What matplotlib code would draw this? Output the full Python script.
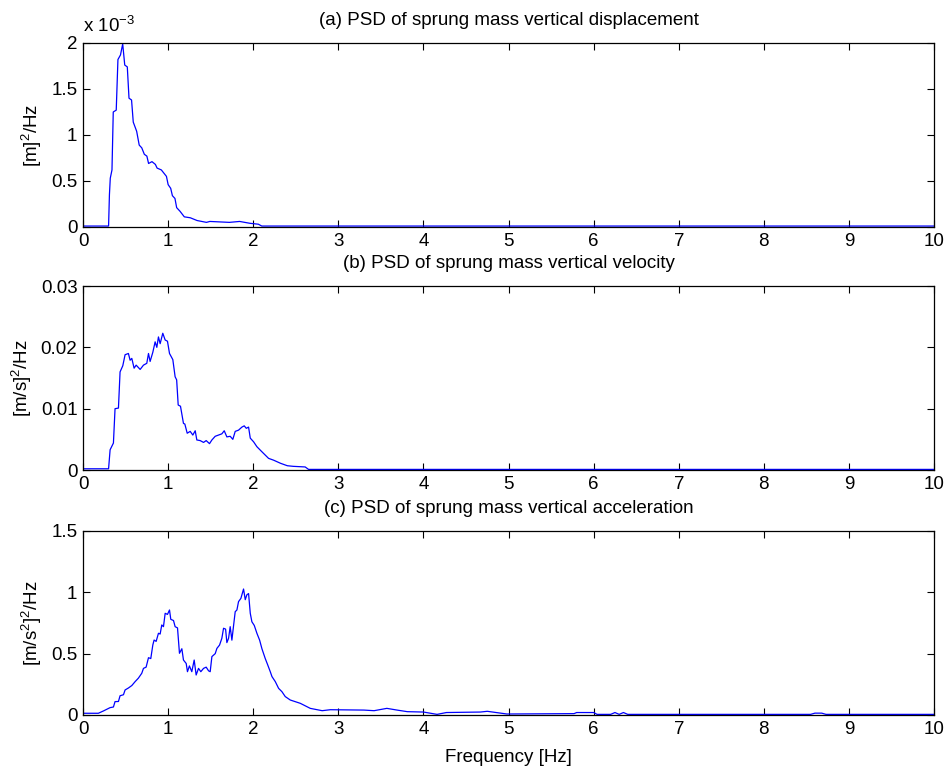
import matplotlib
matplotlib.use("Agg")
import matplotlib.pyplot as plt

plt.rcParams['font.family'] = ['Liberation Sans', 'DejaVu Sans']
plt.rcParams['mathtext.default'] = 'regular'

# (a) desplazamiento, valores en unidades de 1e-3 m^2/Hz
f_disp = [0, 0.30, 0.31, 0.32, 0.34, 0.355, 0.39, 0.41, 0.44, 0.466, 0.49, 0.52, 0.54,
          0.57, 0.59, 0.63, 0.66, 0.69, 0.72, 0.75, 0.77, 0.81, 0.85, 0.87, 0.92, 0.98,
          1.00, 1.03, 1.05, 1.08, 1.10, 1.14, 1.19, 1.26, 1.34, 1.45, 1.49, 1.72, 1.84,
          1.96, 2.06, 2.10, 10]
psd_disp = [0.01, 0.01, 0.35, 0.53, 0.62, 1.25, 1.27, 1.82, 1.87, 1.99, 1.76, 1.74, 1.40,
            1.38, 1.14, 1.04, 0.89, 0.86, 0.79, 0.77, 0.69, 0.71, 0.68, 0.64, 0.62, 0.55,
            0.46, 0.42, 0.34, 0.31, 0.21, 0.17, 0.11, 0.10, 0.07, 0.05, 0.06, 0.05, 0.06,
            0.04, 0.03, 0.01, 0.01]

# (b) velocidad
f_vel = [0, 0.30, 0.318, 0.357, 0.376, 0.416, 0.435, 0.467, 0.494, 0.533, 0.553, 0.573,
         0.60, 0.624, 0.671, 0.71, 0.749, 0.769, 0.788, 0.82, 0.847, 0.867, 0.886, 0.906,
         0.937, 0.965, 0.992, 1.016, 1.055, 1.082, 1.10, 1.118, 1.145, 1.18, 1.196, 1.224,
         1.259, 1.29, 1.318, 1.337, 1.376, 1.416, 1.447, 1.486, 1.514, 1.553, 1.592, 1.631,
         1.659, 1.69, 1.729, 1.76, 1.788, 1.827, 1.867, 1.894, 1.918, 1.945, 1.965, 2.004,
         2.043, 2.10, 2.18, 2.24, 2.32, 2.40, 2.47, 2.61, 2.65, 10]
psd_vel = [0.0002, 0.0002, 0.0033, 0.0044, 0.0100, 0.0101, 0.0160, 0.0170, 0.0188, 0.0190,
           0.0179, 0.0182, 0.0166, 0.0171, 0.0164, 0.0171, 0.0174, 0.0190, 0.0177, 0.0192,
           0.0209, 0.0200, 0.0217, 0.0206, 0.0223, 0.0212, 0.0210, 0.0190, 0.0180, 0.0152,
           0.0147, 0.0106, 0.0104, 0.0076, 0.0075, 0.0060, 0.0063, 0.0057, 0.0064, 0.0049,
           0.0048, 0.0045, 0.0048, 0.0043, 0.0049, 0.0055, 0.0057, 0.0059, 0.0064, 0.0054,
           0.0055, 0.0050, 0.0063, 0.0065, 0.0070, 0.0072, 0.0068, 0.0070, 0.0052, 0.0046,
           0.0038, 0.0030, 0.0019, 0.0016, 0.0011, 0.0007, 0.0006, 0.0005, 0.0001, 0.0001]

# (c) aceleracion
f_acc = [0, 0.18, 0.24, 0.318, 0.357, 0.376, 0.416, 0.435, 0.475, 0.494, 0.533, 0.573,
         0.612, 0.65, 0.69, 0.71, 0.741, 0.769, 0.796, 0.82, 0.835, 0.859, 0.886, 0.906,
         0.925, 0.945, 0.965, 0.992, 1.016, 1.031, 1.063, 1.082, 1.11, 1.133, 1.161, 1.18,
         1.212, 1.227, 1.25, 1.278, 1.306, 1.329, 1.357, 1.384, 1.416, 1.447, 1.475, 1.494,
         1.514, 1.553, 1.573, 1.604, 1.631, 1.651, 1.675, 1.69, 1.71, 1.729, 1.749, 1.769,
         1.788, 1.808, 1.827, 1.855, 1.886, 1.906, 1.925, 1.945, 1.965, 1.984, 2.012, 2.043,
         2.075, 2.102, 2.141, 2.169, 2.20, 2.22, 2.259, 2.298, 2.337, 2.376, 2.435, 2.553,
         2.67, 2.81, 2.906, 3.30, 3.42, 3.57, 3.69, 3.81, 4.0, 4.16, 4.27, 4.67, 4.75, 4.98,
         5.77, 5.80, 6.0, 6.04, 6.2, 6.25, 6.3, 6.35, 6.4, 8.55, 8.6, 8.68, 8.73, 10]
psd_acc = [0.014, 0.014, 0.033, 0.06, 0.065, 0.109, 0.11, 0.157, 0.165, 0.204, 0.22, 0.24,
           0.272, 0.30, 0.34, 0.38, 0.39, 0.467, 0.46, 0.571, 0.611, 0.60, 0.666, 0.66,
           0.734, 0.72, 0.829, 0.82, 0.856, 0.78, 0.77, 0.72, 0.71, 0.503, 0.54, 0.448,
           0.42, 0.353, 0.40, 0.353, 0.448, 0.326, 0.38, 0.353, 0.38, 0.39, 0.36, 0.353,
           0.476, 0.50, 0.543, 0.57, 0.625, 0.707, 0.70, 0.59, 0.625, 0.72, 0.61, 0.73,
           0.842, 0.856, 0.924, 0.951, 1.027, 0.94, 0.98, 0.99, 0.829, 0.76, 0.73, 0.666,
           0.61, 0.54, 0.46, 0.41, 0.353, 0.313, 0.272, 0.217, 0.19, 0.15, 0.122, 0.095,
           0.054, 0.035, 0.043, 0.04, 0.035, 0.054, 0.04, 0.027, 0.024, 0.005, 0.02, 0.024,
           0.03, 0.008, 0.011, 0.02, 0.02, 0.005, 0.005, 0.02, 0.005, 0.02, 0.005, 0.005,
           0.015, 0.015, 0.005, 0.005]

fig = plt.figure(figsize=(9.48, 7.66), dpi=100)
fs = 13.5

paneles = [
    (f_disp, psd_disp, [0.7037, 0.2402], [0, 2], [0, 0.5, 1, 1.5, 2],
     ['0', '0.5', '1', '1.5', '2'], '[m]$^2$/Hz', '(a) PSD of sprung mass vertical displacement'),
    (f_vel, psd_vel, [0.3864, 0.2402], [0, 0.03], [0, 0.01, 0.02, 0.03],
     ['0', '0.01', '0.02', '0.03'], '[m/s]$^2$/Hz', '(b) PSD of sprung mass vertical velocity'),
    (f_acc, psd_acc, [0.0666, 0.2402], [0, 1.5], [0, 0.5, 1, 1.5],
     ['0', '0.5', '1', '1.5'], '[m/s$^2$]$^2$/Hz', '(c) PSD of sprung mass vertical acceleration'),
]

axes = []
for fx, py, (b, h), ylim, yt, ytl, ylab, tit in paneles:
    ax = fig.add_axes([0.0876, b, 0.8977, h])
    ax.plot(fx, py, color='#0000ff', lw=0.9)
    ax.set_xlim(0, 10)
    ax.set_ylim(*ylim)
    ax.set_xticks(range(11))
    ax.set_yticks(yt)
    ax.set_yticklabels(ytl)
    ax.tick_params(direction='in', top=True, right=True, length=5, width=0.8,
                   labelsize=fs, pad=4)
    ax.set_ylabel(ylab, fontsize=fs, labelpad=5)
    ax.set_title(tit, fontsize=fs, pad=13)
    for s in ax.spines.values():
        s.set_linewidth(0.9)
    axes.append(ax)

axes[0].text(0.0, 1.04, 'x 10$^{-3}$', transform=axes[0].transAxes, fontsize=fs,
             ha='left', va='bottom')
axes[2].set_xlabel('Frequency [Hz]', fontsize=fs, labelpad=8)

fig.savefig('out.png', dpi=100)
